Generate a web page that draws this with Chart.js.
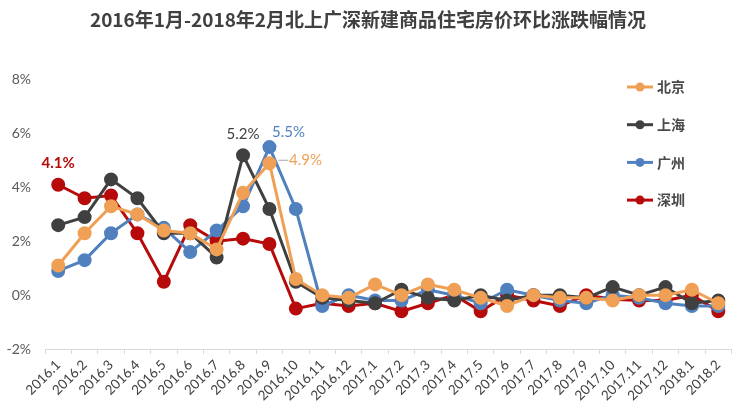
<!DOCTYPE html>
<html>
<head>
<meta charset="utf-8">
<script src="https://cdn.jsdelivr.net/npm/chart.js@4"></script>
<style>
  html, body { margin: 0; padding: 0; background: #fff; }
  #wrap { width: 740px; height: 412px; }
</style>
</head>
<body>
<div id="wrap"><canvas id="chart" width="740" height="412"></canvas></div>
<script>
// months on the x axis
const months = ['2016.1','2016.2','2016.3','2016.4','2016.5','2016.6','2016.7','2016.8','2016.9','2016.10',
  '2016.11','2016.12','2017.1','2017.2','2017.3','2017.4','2017.5','2017.6','2017.7','2017.8',
  '2017.9','2017.10','2017.11','2017.12','2018.1','2018.2'];

// month-on-month change, %
const beijing   = [1.1, 2.3, 3.3, 3.0, 2.4, 2.3, 1.7, 3.8, 4.9, 0.6, 0.0, -0.1, 0.4, 0.0, 0.4, 0.2, -0.1, -0.4, 0.0, -0.1, -0.1, -0.2, 0.0, 0.0, 0.2, -0.3];
const shanghai  = [2.6, 2.9, 4.3, 3.6, 2.3, 2.3, 1.4, 5.2, 3.2, 0.5, -0.1, -0.2, -0.3, 0.2, -0.1, -0.2, 0.0, -0.2, 0.0, 0.0, -0.1, 0.3, 0.0, 0.3, -0.3, -0.2];
const guangzhou = [0.9, 1.3, 2.3, 3.0, 2.5, 1.6, 2.4, 3.3, 5.5, 3.2, -0.4, 0.0, -0.2, -0.2, 0.2, 0.0, -0.3, 0.2, 0.0, -0.2, -0.3, 0.0, -0.1, -0.3, -0.4, -0.4];
const shenzhen  = [4.1, 3.6, 3.7, 2.3, 0.5, 2.6, 2.0, 2.1, 1.9, -0.5, -0.3, -0.4, -0.3, -0.6, -0.3, 0.0, -0.6, 0.0, -0.2, -0.4, 0.0, -0.15, -0.2, -0.2, 0.0, -0.6];

const cities = ['北京', '上海', '广州', '深圳'];
const colors = ['#F0A055', '#404040', '#5081BE', '#B70A0A'];

// labels written next to a few points: [dataset, index, text, dx, dy, bold]
const callouts = [
  [3, 0, '4.1%', 0, -22, true],
  [1, 7, '5.2%', 0, -21, false],
  [2, 8, '5.5%', 19, -15, false],
  [0, 8, '4.9%', 36, -3, false]
];

const series = [beijing, shanghai, guangzhou, shenzhen];

const calloutPlugin = {
  id: 'callouts',
  afterDatasetsDraw(chart) {
    const ctx = chart.ctx;
    ctx.save();
    ctx.textAlign = 'center';
    ctx.textBaseline = 'middle';
    callouts.forEach(([ds, i, txt, dx, dy, bold]) => {
      const pt = chart.getDatasetMeta(ds).data[i];
      ctx.font = (bold ? 'bold ' : '') + '15px Lato, "Noto Sans", sans-serif';
      ctx.fillStyle = colors[ds];
      ctx.fillText(txt, pt.x + dx, pt.y + dy);
      if (ds === 0) {
        // small leader line for the Beijing label
        ctx.strokeStyle = '#a6a6a6';
        ctx.lineWidth = 1;
        ctx.beginPath();
        ctx.moveTo(pt.x + 9, pt.y - 3);
        ctx.lineTo(pt.x + 19, pt.y - 3);
        ctx.stroke();
      }
    });
    ctx.restore();
  }
};

const legendPlugin = {
  id: 'sideLegend',
  afterDraw(chart) {
    const ctx = chart.ctx;
    ctx.save();
    ctx.font = 'bold 14px "Noto Sans CJK SC", sans-serif';
    ctx.textBaseline = 'middle';
    chart.data.datasets.forEach((ds, k) => {
      const y = 87 + k * 37.7;
      ctx.strokeStyle = ds.borderColor;
      ctx.lineWidth = 3;
      ctx.beginPath();
      ctx.moveTo(627, y);
      ctx.lineTo(653, y);
      ctx.stroke();
      ctx.fillStyle = ds.borderColor;
      ctx.beginPath();
      ctx.arc(640, y, 4.5, 0, Math.PI * 2);
      ctx.fill();
      ctx.fillStyle = '#4a4a4a';
      ctx.fillText(ds.label, 657, y);
    });
    ctx.restore();
  }
};

new Chart(document.getElementById('chart'), {
  type: 'line',
  data: {
    labels: months,
    datasets: series.map((d, k) => ({
      label: cities[k],
      data: d,
      borderColor: colors[k],
      backgroundColor: colors[k],
      borderWidth: 3,
      pointRadius: 5.5,
      pointHoverRadius: 5.5,
      tension: 0
    }))
  },
  options: {
    responsive: false,
    animation: false,
    layout: { padding: { left: 0, right: 4, top: 0, bottom: 0 } },
    plugins: {
      legend: { display: false },
      tooltip: { enabled: false },
      title: {
        display: true,
        text: '2016年1月-2018年2月北上广深新建商品住宅房价环比涨跌幅情况',
        color: '#404040',
        font: { family: '"Noto Sans CJK SC", sans-serif', size: 19, weight: 'bold' },
        padding: { top: 8, bottom: 49 }
      }
    },
    scales: {
      x: {
        offset: true,
        grid: { display: true, drawOnChartArea: false, drawTicks: true, tickLength: 5, color: '#d9d9d9', offset: true },
        border: { display: true, color: '#d9d9d9' },
        ticks: {
          autoSkip: false,
          maxRotation: 45,
          minRotation: 45,
          color: '#404040',
          font: { family: 'Lato, "Noto Sans", sans-serif', size: 13.5 },
          padding: 3
        },
        afterFit(s) { s.height = 63; }
      },
      y: {
        min: -2,
        max: 8,
        grid: { display: false },
        border: { display: false },
        ticks: {
          stepSize: 2,
          color: '#595959',
          font: { family: 'Lato, "Noto Sans", sans-serif', size: 14 },
          padding: 6,
          callback: v => v + '%'
        },
        afterFit(s) { s.width = 45; }
      }
    }
  },
  plugins: [calloutPlugin, legendPlugin]
});
</script>
</body>
</html>
